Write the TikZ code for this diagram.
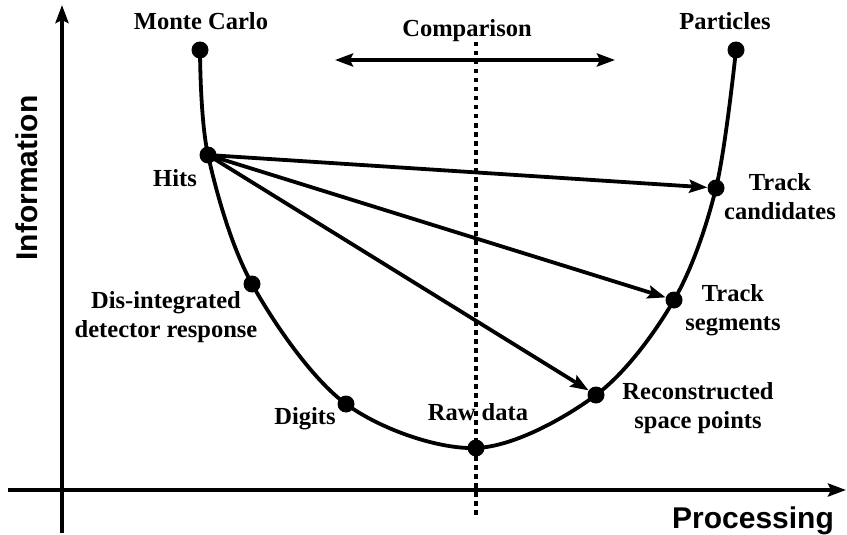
\documentclass[tikz,border=0pt]{standalone}
\usepackage{fontspec}
\setmainfont{Liberation Serif}
\newfontfamily\axisfont{Liberation Sans}
\usetikzlibrary{arrows.meta}
\begin{document}
\begin{tikzpicture}[x=1pt,y=-1pt,
  thick line/.style={line width=3.8pt},
  tip/.style={-{Stealth[length=18pt,width=13pt,inset=3pt]}},
  dot/.style={circle,fill=black,inner sep=0pt,minimum size=17pt},
  lbl/.style={font=\fontsize{24.5}{29}\selectfont\bfseries,align=center,inner sep=0pt},
  axlbl/.style={font=\axisfont\fontsize{30}{34}\selectfont\bfseries,inner sep=0pt}]
\useasboundingbox (0,0) rectangle (847,535);

% stages along the processing chain
\coordinate (pmc) at (200,50);
\coordinate (phits) at (208,155);
\coordinate (pdis) at (252,284);
\coordinate (pdig) at (346,404);
\coordinate (praw) at (476,448);
\coordinate (prec) at (596,395);
\coordinate (pseg) at (674,300);
\coordinate (pcand) at (716,188);
\coordinate (ppart) at (736,50);

% axes
\coordinate (yb) at (62,533);
\coordinate (yt) at (62,5);
\coordinate (xl) at (8,490);
\coordinate (xr) at (846,490);
\draw[thick line,tip] (yb) -- (yt);
\draw[thick line,tip] (xl) -- (xr);
\node[axlbl,rotate=90] (info) at (27,178) {Information};
\node[axlbl] (proc) at (753,521) {Processing};

% dotted comparison line
\coordinate (dt) at (476,42);
\coordinate (db) at (476,518);
\draw[line width=3.8pt,dash pattern=on 4.5pt off 4.5pt] (dt) -- (db);

% comparison arrow
\coordinate (cl) at (335,60);
\coordinate (cr) at (615,60);
\draw[thick line,{Stealth[length=18pt,width=13pt,inset=3pt]}-{Stealth[length=18pt,width=13pt,inset=3pt]}] (cl) -- (cr);
\node[lbl] (comp) at (467,31) {Comparison};

% the U-shaped curve
\draw[thick line,line join=round] plot[smooth,tension=0.55] coordinates
  {(pmc) (phits) (pdis) (pdig) (praw) (prec) (pseg) (pcand) (ppart)};

% dots
\node[dot] (mc) at (pmc) {};
\node[dot] (hits) at (phits) {};
\node[dot] (dis) at (pdis) {};
\node[dot] (dig) at (pdig) {};
\node[dot] (raw) at (praw) {};
\node[dot] (rec) at (prec) {};
\node[dot] (seg) at (pseg) {};
\node[dot] (cand) at (pcand) {};
\node[dot] (part) at (ppart) {};

% arrows from hits
\draw[thick line,tip] (hits.center) -- (cand);
\draw[thick line,tip] (hits.center) -- (seg);
\draw[thick line,tip] (hits.center) -- (rec);

% labels
\node[lbl] (lmc) at (201,21) {Monte Carlo};
\node[lbl] (lpart) at (725,21) {Particles};
\node[lbl] (lhits) at (175,178) {Hits};
\node[lbl] (ldis) at (166,317) {Dis-integrated\\detector response};
\node[lbl] (ldig) at (305,419) {Digits};
\node[lbl] (lraw) at (478,412) {Raw data};
\node[lbl] (lrec) at (698,408) {Reconstructed\\space points};
\node[lbl] (lseg) at (733,310) {Track\\segments};
\node[lbl] (lcand) at (780,197) {Track\\candidates};
\end{tikzpicture}
\end{document}
